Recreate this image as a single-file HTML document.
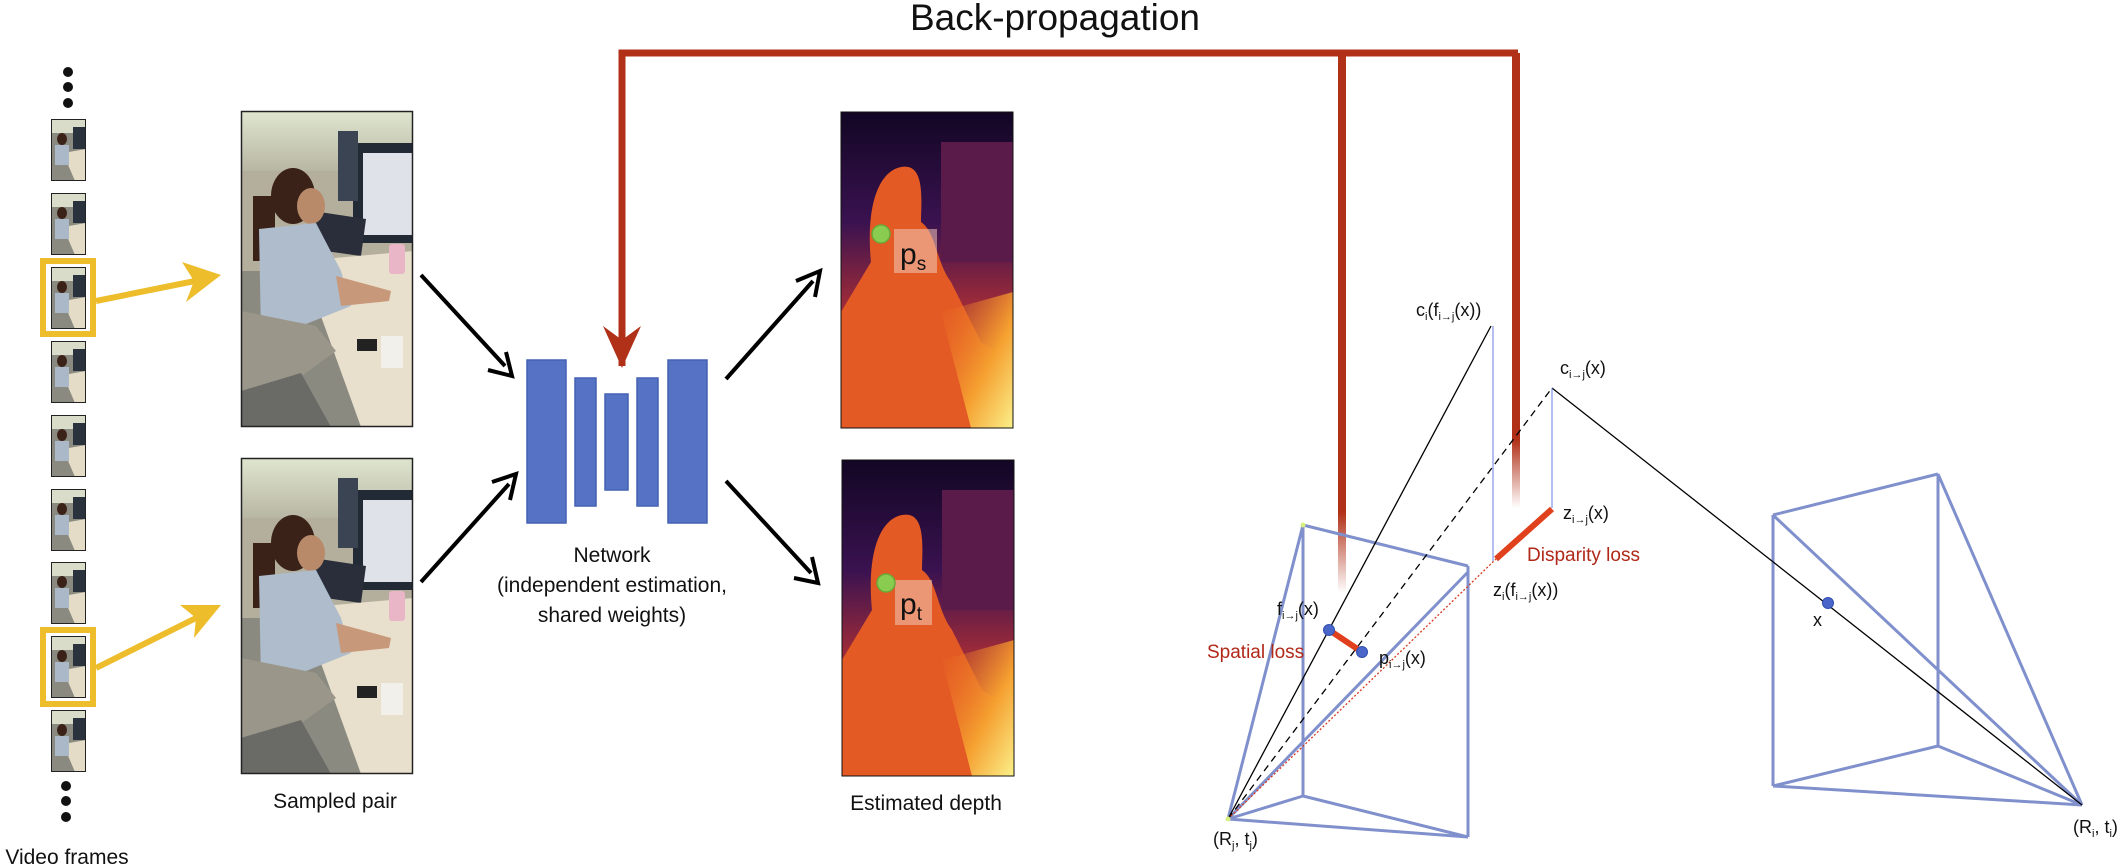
<!DOCTYPE html>
<html><head><meta charset="utf-8"><style>
html,body{margin:0;padding:0;background:#fff}
svg{display:block}
text{font-family:"Liberation Sans",sans-serif}
</style></head><body>
<svg width="2125" height="866" viewBox="0 0 2125 866" xmlns="http://www.w3.org/2000/svg">
<defs>
<linearGradient id="bgTop" x1="0" y1="0" x2="0" y2="1"><stop offset="0" stop-color="#dfe6cf"/><stop offset="1" stop-color="#b8b6a4"/></linearGradient>
<linearGradient id="depthBg" x1="0" y1="0" x2="0" y2="1"><stop offset="0" stop-color="#120624"/><stop offset="0.35" stop-color="#3a1250"/><stop offset="0.6" stop-color="#9a2a3a"/><stop offset="1" stop-color="#d04a28"/></linearGradient>
<linearGradient id="depthGlow" x1="0" y1="0" x2="1" y2="1"><stop offset="0" stop-color="#e86a22" stop-opacity="0"/><stop offset="0.6" stop-color="#f5a030"/><stop offset="1" stop-color="#fbf08a"/></linearGradient>
<linearGradient id="fadeRed" x1="0" y1="0" x2="0" y2="1"><stop offset="0.85" stop-color="#b03018"/><stop offset="1" stop-color="#b03018" stop-opacity="0"/></linearGradient>
<g id="photo">
  <rect x="0" y="0" width="172" height="316" fill="#8a8a80"/>
  <rect x="0" y="0" width="172" height="60" fill="url(#bgTop)"/>
  <rect x="0" y="60" width="172" height="100" fill="#b4ae9c"/>
  <rect x="112" y="32" width="60" height="100" fill="#222a36"/>
  <rect x="122" y="42" width="50" height="82" fill="#dfe2e8"/>
  <rect x="97" y="20" width="20" height="70" fill="#3a4452"/>
  <polygon points="72,100 125,108 120,145 70,138" fill="#2a2e3a"/>
  <polygon points="60,150 172,140 172,316 120,316" fill="#e8e0cc"/>
  <rect x="148" y="133" width="16" height="30" rx="3" fill="#e8b6c6"/>
  <ellipse cx="52" cy="85" rx="22" ry="28" fill="#3a2218"/>
  <rect x="12" y="85" width="22" height="65" fill="#3a2218"/>
  <ellipse cx="70" cy="95" rx="14" ry="18" fill="#b88a6a"/>
  <polygon points="18,118 75,112 100,160 110,195 60,215 20,225" fill="#aebccc"/>
  <polygon points="95,165 150,180 148,190 100,195" fill="#c8987a"/>
  <polygon points="0,200 75,215 95,240 40,280 0,280" fill="#9a968a"/>
  <polygon points="0,280 60,262 90,316 0,316" fill="#6a6a66"/>
  <rect x="140" y="225" width="22" height="32" fill="#f2f0ea"/>
  <rect x="116" y="228" width="20" height="12" fill="#222"/>
  <rect x="0.5" y="0.5" width="171" height="315" fill="none" stroke="#222" stroke-width="1.5"/>
</g>
<g id="depth">
  <rect x="0" y="0" width="172" height="316" fill="url(#depthBg)"/>
  <rect x="100" y="30" width="72" height="120" fill="#5a1a4a"/>
  <path d="M30,150 C25,100 35,60 60,55 C85,50 80,90 80,110 C95,120 95,150 110,170 L140,230 L172,250 L172,316 L0,316 L0,200 Z" fill="#e45a24"/>
  <polygon points="100,200 172,180 172,316 130,316" fill="url(#depthGlow)"/>
  <rect x="0" y="0" width="172" height="316" fill="none" stroke="#111" stroke-width="1"/>
</g>
<g id="thumb">
  <rect x="0" y="0" width="35" height="62" fill="#8a8a80"/>
  <rect x="0" y="0" width="35" height="14" fill="#d8dcc8"/>
  <rect x="22" y="8" width="13" height="22" fill="#2a323e"/>
  <polygon points="12,34 35,30 35,62 24,62" fill="#e4dcc6"/>
  <ellipse cx="11" cy="20" rx="5" ry="6" fill="#3a2218"/>
  <rect x="4" y="26" width="14" height="20" fill="#aab8c8"/>
  <rect x="0.5" y="0.5" width="34" height="61" fill="none" stroke="#222" stroke-width="1"/>
</g>
</defs>

<!-- Title -->
<text x="1055" y="30" font-size="37" text-anchor="middle" fill="#111">Back-propagation</text>

<!-- Video frames column -->
<g>
  <circle cx="68" cy="72" r="5" fill="#111"/><circle cx="68" cy="87" r="5" fill="#111"/><circle cx="68" cy="103" r="5" fill="#111"/>
  <circle cx="66" cy="786" r="5" fill="#111"/><circle cx="66" cy="801" r="5" fill="#111"/><circle cx="66" cy="817" r="5" fill="#111"/>
  <use href="#thumb" x="51" y="119"/><use href="#thumb" x="51" y="193"/><use href="#thumb" x="51" y="267"/>
  <use href="#thumb" x="51" y="341"/><use href="#thumb" x="51" y="415"/><use href="#thumb" x="51" y="489"/>
  <use href="#thumb" x="51" y="562"/><use href="#thumb" x="51" y="636"/><use href="#thumb" x="51" y="710"/>
  <rect x="43" y="261" width="50" height="73" fill="none" stroke="#eebd2c" stroke-width="6"/>
  <rect x="43" y="630" width="50" height="74" fill="none" stroke="#eebd2c" stroke-width="6"/>
</g>
<text x="67" y="864" font-size="21" text-anchor="middle" fill="#111">Video frames</text>

<!-- yellow arrows -->
<g fill="#eebd2c" stroke="#eebd2c">
  <line x1="96" y1="301" x2="205" y2="279" stroke-width="6"/>
  <polygon points="221,275 182,262 194,281 186,302" stroke="none"/>
  <line x1="96" y1="668" x2="206" y2="613" stroke-width="6"/>
  <polygon points="221,605 180,605 196,618 194,638" stroke="none"/>
</g>

<!-- photos -->
<use href="#photo" x="241" y="111"/>
<use href="#photo" x="241" y="458"/>
<text x="335" y="808" font-size="21" text-anchor="middle" fill="#111">Sampled pair</text>

<!-- black arrows -->
<g stroke="#000" stroke-width="4" fill="#000">
  <line x1="421" y1="275" x2="505" y2="366"/>
  <polyline points="488,370 512,376 506,352" fill="none"/>
  <line x1="421" y1="582" x2="509" y2="484"/>
  <polyline points="510,500 516,474 492,482" fill="none"/>
  <line x1="726" y1="379" x2="813" y2="281"/>
  <polyline points="796,281 820,271 815,297" fill="none"/>
  <line x1="726" y1="481" x2="811" y2="573"/>
  <polyline points="812,557 818,583 794,578" fill="none"/>
</g>

<!-- network -->
<g fill="#5572c4" stroke="#4562b4" stroke-width="1.5">
  <rect x="527" y="360" width="39" height="163"/>
  <rect x="575" y="378" width="21" height="128"/>
  <rect x="605" y="394" width="23" height="96"/>
  <rect x="637" y="378" width="21" height="128"/>
  <rect x="668" y="360" width="39" height="163"/>
</g>
<g font-size="21" text-anchor="middle" fill="#111">
  <text x="612" y="562">Network</text>
  <text x="612" y="592">(independent estimation,</text>
  <text x="612" y="622">shared weights)</text>
</g>

<!-- depth maps -->
<use href="#depth" x="841" y="112"/>
<use href="#depth" x="842" y="460"/>
<rect x="894" y="229" width="43" height="44" fill="#f0c8b8" fill-opacity="0.55"/>
<rect x="895" y="580" width="37" height="45" fill="#f0c8b8" fill-opacity="0.55"/>
<circle cx="881" cy="234" r="9" fill="#8acc50" stroke="#6aa838" stroke-width="1.5"/>
<circle cx="886" cy="583" r="9" fill="#8acc50" stroke="#6aa838" stroke-width="1.5"/>
<text x="900" y="264" font-size="30" fill="#111">p<tspan font-size="19" dy="6">s</tspan></text>
<text x="900" y="614" font-size="30" fill="#111">p<tspan font-size="19" dy="6">t</tspan></text>
<text x="926" y="810" font-size="21" text-anchor="middle" fill="#111">Estimated depth</text>

<!-- back-propagation red lines -->
<g>
  <polyline points="622,366 622,53 1518,53" fill="none" stroke="#b03018" stroke-width="7"/>
  <polygon points="603,326 622,368 641,326 622,340" fill="#b03018"/>
  <rect x="1338" y="53" width="8" height="540" fill="url(#fadeRed)"/>
  <rect x="1512" y="53" width="8" height="455" fill="url(#fadeRed)"/>
</g>

<!-- left frustum (camera j) -->
<g stroke="#8090cc" stroke-width="3" fill="none">
  <line x1="1303" y1="525" x2="1303" y2="796"/>
  <line x1="1468" y1="566" x2="1468" y2="837"/>
  <line x1="1303" y1="525" x2="1468" y2="566"/>
  <line x1="1303" y1="796" x2="1468" y2="837"/>
  <line x1="1228" y1="819" x2="1303" y2="525"/>
  <line x1="1228" y1="819" x2="1303" y2="796"/>
  <line x1="1228" y1="819" x2="1468" y2="837"/>
  <line x1="1228" y1="819" x2="1468" y2="572"/>
</g>
<!-- right frustum (camera i) -->
<g stroke="#8090cc" stroke-width="3" fill="none">
  <line x1="1773" y1="515" x2="1773" y2="786"/>
  <line x1="1938" y1="474" x2="1938" y2="746"/>
  <line x1="1773" y1="515" x2="1938" y2="474"/>
  <line x1="1773" y1="786" x2="1938" y2="746"/>
  <line x1="2082" y1="805" x2="1938" y2="474"/>
  <line x1="2082" y1="805" x2="1773" y2="515"/>
  <line x1="2082" y1="805" x2="1938" y2="746"/>
  <line x1="2082" y1="805" x2="1773" y2="786"/>
</g>

<!-- rays -->
<g>
  <line x1="1228" y1="819" x2="1491" y2="326" stroke="#000" stroke-width="1.3"/>
  <line x1="1228" y1="819" x2="1552" y2="388" stroke="#000" stroke-width="1.3" stroke-dasharray="7,5"/>
  <line x1="1552" y1="388" x2="2082" y2="805" stroke="#000" stroke-width="1.3"/>
  <line x1="1493" y1="326" x2="1493" y2="561" stroke="#6a7ee0" stroke-width="1"/>
  <line x1="1552" y1="388" x2="1552" y2="508" stroke="#6a7ee0" stroke-width="1"/>
  <line x1="1228" y1="819" x2="1496" y2="559" stroke="#d83a20" stroke-width="1.3" stroke-dasharray="2,2"/>
</g>
<line x1="1496" y1="559" x2="1552" y2="509" stroke="#e0401c" stroke-width="6"/>
<line x1="1329" y1="630" x2="1362" y2="652" stroke="#e0401c" stroke-width="6"/>
<circle cx="1329" cy="630" r="5.5" fill="#4a66c8" stroke="#3050b0"/>
<circle cx="1362" cy="652" r="5.5" fill="#4a66c8" stroke="#3050b0"/>
<circle cx="1828" cy="603" r="5.5" fill="#4a66c8" stroke="#3050b0"/>
<circle cx="1228" cy="819" r="2.5" fill="#d8f080"/>
<circle cx="1303" cy="525" r="2.5" fill="#d8f080"/>

<!-- labels -->
<g font-size="18" fill="#111">
  <text x="1416" y="316">c<tspan font-size="11" dy="4">i</tspan><tspan dy="-4">(f</tspan><tspan font-size="11" dy="4">i→j</tspan><tspan dy="-4">(x))</tspan></text>
  <text x="1560" y="374">c<tspan font-size="11" dy="4">i→j</tspan><tspan dy="-4">(x)</tspan></text>
  <text x="1563" y="519">z<tspan font-size="11" dy="4">i→j</tspan><tspan dy="-4">(x)</tspan></text>
  <text x="1493" y="596">z<tspan font-size="11" dy="4">i</tspan><tspan dy="-4">(f</tspan><tspan font-size="11" dy="4">i→j</tspan><tspan dy="-4">(x))</tspan></text>
  <text x="1277" y="615">f<tspan font-size="11" dy="4">i→j</tspan><tspan dy="-4">(x)</tspan></text>
  <text x="1379" y="664">p<tspan font-size="11" dy="4">i→j</tspan><tspan dy="-4">(x)</tspan></text>
  <text x="1813" y="626">x</text>
  <text x="1213" y="845">(R<tspan font-size="11" dy="4">j</tspan><tspan dy="-4">, t</tspan><tspan font-size="11" dy="4">j</tspan><tspan dy="-4">)</tspan></text>
  <text x="2073" y="833">(R<tspan font-size="11" dy="4">i</tspan><tspan dy="-4">, t</tspan><tspan font-size="11" dy="4">i</tspan><tspan dy="-4">)</tspan></text>
</g>
<text x="1527" y="561" font-size="19" fill="#b02818">Disparity loss</text>
<text x="1207" y="658" font-size="19" fill="#b02818">Spatial loss</text>
</svg>
</body></html>
